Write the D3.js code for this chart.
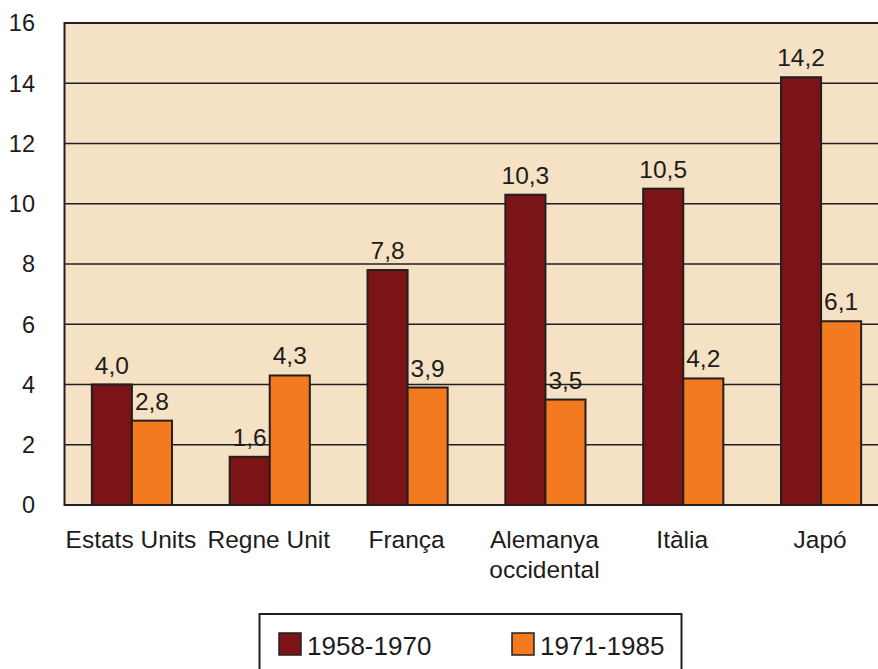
<!DOCTYPE html>
<html>
<head>
<meta charset="utf-8">
<script src="https://cdn.jsdelivr.net/npm/d3@7"></script>
<style>
  body { margin: 0; background: #fff; }
  text { font-family: "Liberation Sans", Arial, sans-serif; fill: #1e1b1c; }
</style>
</head>
<body>
<div id="chart"></div>
<script>
var width = 878,
  height = 669;

var categories = [["Estats Units"], ["Regne Unit"], ["França"], ["Alemanya", "occidental"], ["Itàlia"], ["Japó"]];
var series = ["1958-1970", "1971-1985"];
var values1958 = [4.0, 1.6, 7.8, 10.3, 10.5, 14.2];
var values1971 = [2.8, 4.3, 3.9, 3.5, 4.2, 6.1];
var yTicks = [0, 2, 4, 6, 8, 10, 12, 14, 16];
var colors = ["#7b1417", "#f47a20"];

var svg = d3.select("#chart").append("svg")
  .attr("width", width)
  .attr("height", height);

var x0 = d3.scaleBand()
  .domain(d3.range(categories.length))
  .range([63, 890]);

var x1 = d3.scaleBand()
  .domain(series)
  .range([0, x0.bandwidth()])
  .paddingOuter(0.72);

var y = d3.scaleLinear()
  .domain([0, 16])
  .range([505, 23]);

// plot background
svg.append("rect")
  .attr("x", 64.5)
  .attr("y", y(16))
  .attr("width", width - 64.5)
  .attr("height", y(0) - y(16))
  .attr("fill", "#f5e1c3");

// gridlines
svg.append("g")
  .selectAll("line")
  .data(yTicks)
  .enter().append("line")
  .attr("x1", 64.5)
  .attr("x2", width)
  .attr("y1", d => y(d))
  .attr("y2", d => y(d))
  .attr("stroke", "#231f20")
  .attr("stroke-width", d => (d == 16 || d == 0) ? 2 : 1.5);

// left frame
svg.append("line")
  .attr("x1", 64.5).attr("x2", 64.5)
  .attr("y1", y(16) - 1).attr("y2", y(0) + 1)
  .attr("stroke", "#231f20")
  .attr("stroke-width", 2);

// y tick labels
svg.append("g")
  .selectAll("text")
  .data(yTicks)
  .enter().append("text")
  .attr("x", 35)
  .attr("y", d => y(d))
  .attr("dy", "0.36em")
  .attr("text-anchor", "end")
  .style("font-size", "23.5px")
  .text(d => d);

var rows = categories.map(function(c, i) {
  return [
    {i: i, s: series[0], v: values1958[i]},
    {i: i, s: series[1], v: values1971[i]}
  ];
});

var group = svg.append("g")
  .selectAll("g")
  .data(rows)
  .enter().append("g")
  .attr("transform", (d, i) => "translate(" + x0(i) + ",0)");

group.selectAll("rect")
  .data(d => d)
  .enter().append("rect")
  .attr("x", d => x1(d.s))
  .attr("y", d => y(d.v))
  .attr("width", x1.bandwidth())
  .attr("height", d => y(0) - y(d.v))
  .attr("fill", (d, j) => colors[j])
  .attr("stroke", "#231f20")
  .attr("stroke-width", 2);

group.selectAll("text")
  .data(d => d)
  .enter().append("text")
  .attr("x", d => x1(d.s) + x1.bandwidth() / 2)
  .attr("y", d => y(d.v) - 11)
  .attr("text-anchor", "middle")
  .style("font-size", "24.5px")
  .text(d => d.v.toFixed(1).replace(".", ","));

// category labels
var cat = svg.append("g")
  .selectAll("text")
  .data(categories)
  .enter().append("text")
  .attr("x", (d, i) => x0(i) + x0.bandwidth() / 2 - 1)
  .attr("y", 548)
  .attr("text-anchor", "middle")
  .style("font-size", "24.5px");

cat.selectAll("tspan")
  .data(d => d)
  .enter().append("tspan")
  .attr("x", function() { return this.parentNode.getAttribute("x"); })
  .attr("dy", (d, j) => j == 0 ? 0 : 29.5)
  .text(d => d);

// legend
var legend = svg.append("g");
legend.append("rect")
  .attr("x", 259.5)
  .attr("y", 614)
  .attr("width", 422)
  .attr("height", 80)
  .attr("fill", "#fff")
  .attr("stroke", "#231f20")
  .attr("stroke-width", 2);

var legendX = [279, 512];
var item = legend.selectAll("g")
  .data(series)
  .enter().append("g")
  .attr("transform", (d, i) => "translate(" + legendX[i] + ",633)");

item.append("rect")
  .attr("width", 22)
  .attr("height", 22)
  .attr("fill", (d, i) => colors[i])
  .attr("stroke", "#231f20")
  .attr("stroke-width", 1.5);

item.append("text")
  .attr("x", 28)
  .attr("y", 22)
  .style("font-size", "26px")
  .text(d => d);
</script>
</body>
</html>
